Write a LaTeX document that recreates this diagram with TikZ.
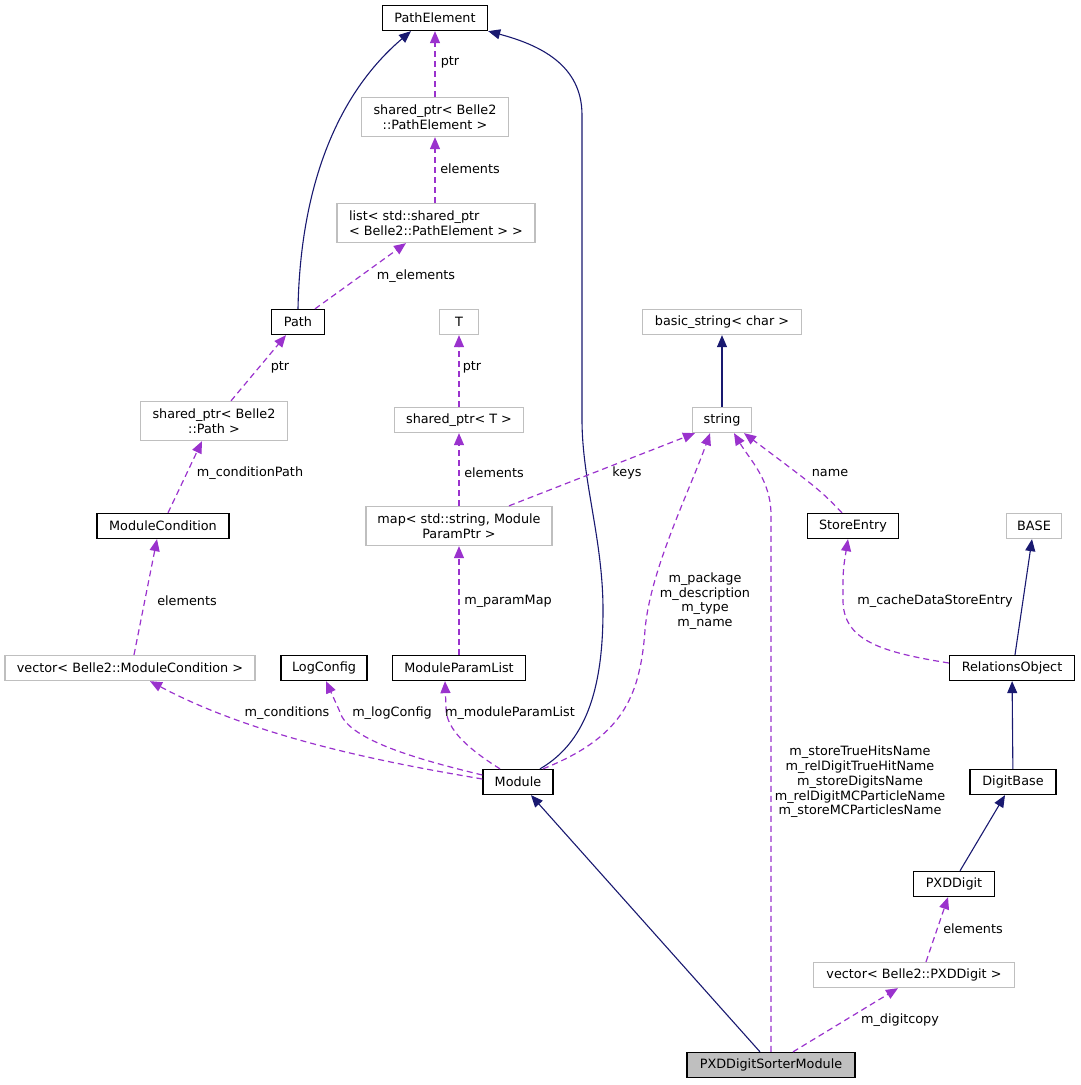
\documentclass[tikz,border=0pt]{standalone}
\usepackage{fontspec}
\setmainfont{DejaVu Sans}
\usetikzlibrary{arrows.meta}
\definecolor{inhc}{HTML}{191970}
\definecolor{usec}{HTML}{9A32CD}
\definecolor{extc}{HTML}{BFBFBF}
\tikzset{
  box/.style = {rectangle, inner xsep=4pt, inner ysep=2pt, minimum height=25pt,
                font=\fontsize{12.8}{14.7}\selectfont, align=center},
  cls/.style = {box, draw=black, line width=1.3pt},
  ext/.style = {box, draw=extc, line width=1.3pt},
  lbl/.style = {inner sep=0pt, font=\fontsize{12.8}{14.7}\selectfont, align=center},
  inh/.style = {draw=inhc, line width=1.1pt, -{Triangle[length=12pt,width=10pt]}},
  use/.style = {draw=usec, line width=1.2pt, dash pattern=on 6pt off 4pt,
                -{Triangle[length=12pt,width=10pt]}},
}
\begin{document}
\begin{tikzpicture}[x=1pt, y=-1pt]
\useasboundingbox (0,0) rectangle (1081,1085);
% classes
\node[cls, minimum width=105] (pathelem) at (435,18) {PathElement};
\node[ext, minimum width=147, minimum height=39] (sppe) at (435,117) {shared\_ptr< Belle2\\::PathElement >};
\node[ext, minimum width=198, minimum height=39, align=left] (listpe) at (436,223) {list< std::shared\_ptr\\< Belle2::PathElement > >};
\node[cls, minimum width=53] (path) at (298,322) {Path};
\node[ext, minimum width=39] (t) at (459,322) {T};
\node[ext, minimum width=159] (bstr) at (722,322) {basic\_string< char >};
\node[ext, minimum width=147, minimum height=39] (spp) at (214,421) {shared\_ptr< Belle2\\::Path >};
\node[ext, minimum width=129] (spt) at (459,420) {shared\_ptr< T >};
\node[ext, minimum width=59] (str) at (722,420) {string};
\node[cls, minimum width=132] (modcond) at (163,526) {ModuleCondition};
\node[ext, minimum width=186, minimum height=39] (map) at (459,526) {map< std::string, Module\\ParamPtr >};
\node[cls, minimum width=91] (store) at (853,526) {StoreEntry};
\node[ext, minimum width=55] (base) at (1034,526) {BASE};
\node[ext, minimum width=250] (vecmc) at (130,668) {vector< Belle2::ModuleCondition >};
\node[cls, minimum width=86] (logcfg) at (324,668) {LogConfig};
\node[cls, minimum width=133] (mpl) at (459,668) {ModuleParamList};
\node[cls, minimum width=125] (relobj) at (1012,668) {RelationsObject};
\node[cls, minimum width=70] (module) at (518,782) {Module};
\node[cls, minimum width=86] (digbase) at (1013,782) {DigitBase};
\node[cls, minimum width=81] (pxd) at (954,884) {PXDDigit};
\node[ext, minimum width=201] (vecpxd) at (914,975) {vector< Belle2::PXDDigit >};
\node[cls, fill=extc, minimum width=168] (sorter) at (771,1065) {PXDDigitSorterModule};
% inheritance
\draw[inh] (path.north) .. controls (300,200) and (330,100) .. ([xshift=-24pt]pathelem.south);
\draw[inh] ([xshift=22pt]module.north) .. controls (590,740) and (603,680) .. (603,610)
  .. controls (603,540) and (582,480) .. (582,420) -- (582,115)
  .. controls (582,65) and (540,45) .. (pathelem.south east);
\draw[inh] (str) -- (bstr);
\draw[inh] ([xshift=3pt]relobj.north) -- ([xshift=-2pt]base.south);
\draw[inh] (digbase) -- (relobj);
\draw[inh] ([xshift=6pt]pxd.north) -- ([xshift=-8pt]digbase.south);
\draw[inh] ([xshift=-11pt]sorter.north) -- ([xshift=13pt]module.south);
% usage
\draw[use] (sppe) -- (pathelem);
\draw[use] (listpe.north -| sppe.south) -- (sppe.south);
\draw[use] ([xshift=17pt]path.north) -- ([xshift=-30pt]listpe.south);
\draw[use] ([xshift=17pt]spp.north) -- ([xshift=-12pt]path.south);
\draw[use] (spt) -- (t);
\draw[use] (map) -- (spt);
\draw[use] ([xshift=5pt]modcond.north) -- ([xshift=-12pt]spp.south);
\draw[use] ([xshift=4pt]vecmc.north) -- ([xshift=-6pt]modcond.south);
\draw[use] (mpl) -- (map);
\draw[use] ([xshift=50pt]map.north) -- ([xshift=-27pt]str.south);
\draw[use] ([xshift=-11pt]store.north) .. controls (820,490) .. ([xshift=22pt]str.south);
\draw[use] ([yshift=5pt]relobj.west) .. controls (880,652) and (843,640) .. (843,600)
  .. controls (843,570) .. ([xshift=-5pt]store.south);
\draw[use] ([yshift=3pt]module.west) .. controls (400,765) and (260,740) .. ([xshift=20pt]vecmc.south);
\draw[use] ([yshift=7pt]module.west) .. controls (420,760) and (348,740) .. (340,712) -- ([xshift=2pt]logcfg.south);
\draw[use] ([xshift=-18pt]module.north) .. controls (470,750) and (446,730) .. (446,708) -- ([xshift=-14pt]mpl.south);
\draw[use] ([xshift=25pt]module.north) .. controls (620,738) and (640,700) .. (645,630)
  .. controls (650,570) and (690,490) .. ([xshift=-12pt]str.south);
\draw[use] (sorter.north) -- (771,515) .. controls (771,480) and (750,460) .. ([xshift=12pt]str.south);
\draw[use] ([xshift=22pt]sorter.north) -- ([xshift=-16pt]vecpxd.south);
\draw[use] ([xshift=12pt]vecpxd.north) -- ([xshift=-6pt]pxd.south);
% labels
\node[lbl] (l-ptr) at (450,62) {ptr};
\node[lbl] (l-elem) at (470,169) {elements};
\node[lbl] (l-melem) at (416,276) {m\_elements};
\node[lbl] (l-pptr) at (280,367) {ptr};
\node[lbl] (l-tptr) at (472,367) {ptr};
\node[lbl] (l-cpath) at (250,473) {m\_conditionPath};
\node[lbl] (l-melems) at (494,473) {elements};
\node[lbl] (l-keys) at (627,473) {keys};
\node[lbl] (l-name) at (830,473) {name};
\node[lbl] (l-celem) at (187,601) {elements};
\node[lbl] (l-pmap) at (508,601) {m\_paramMap};
\node[lbl] (l-strs) at (705,601) {m\_package\\m\_description\\m\_type\\m\_name};
\node[lbl] (l-cache) at (935,601) {m\_cacheDataStoreEntry};
\node[lbl] (l-cond) at (287,713) {m\_conditions};
\node[lbl] (l-log) at (392,713) {m\_logConfig};
\node[lbl] (l-mpl) at (510,713) {m\_moduleParamList};
\node[lbl] (l-names) at (860,782) {m\_storeTrueHitsName\\m\_relDigitTrueHitName\\m\_storeDigitsName\\m\_relDigitMCParticleName\\m\_storeMCParticlesName};
\node[lbl] (l-pelem) at (973,929) {elements};
\node[lbl] (l-copy) at (900,1020) {m\_digitcopy};
\end{tikzpicture}
\end{document}
